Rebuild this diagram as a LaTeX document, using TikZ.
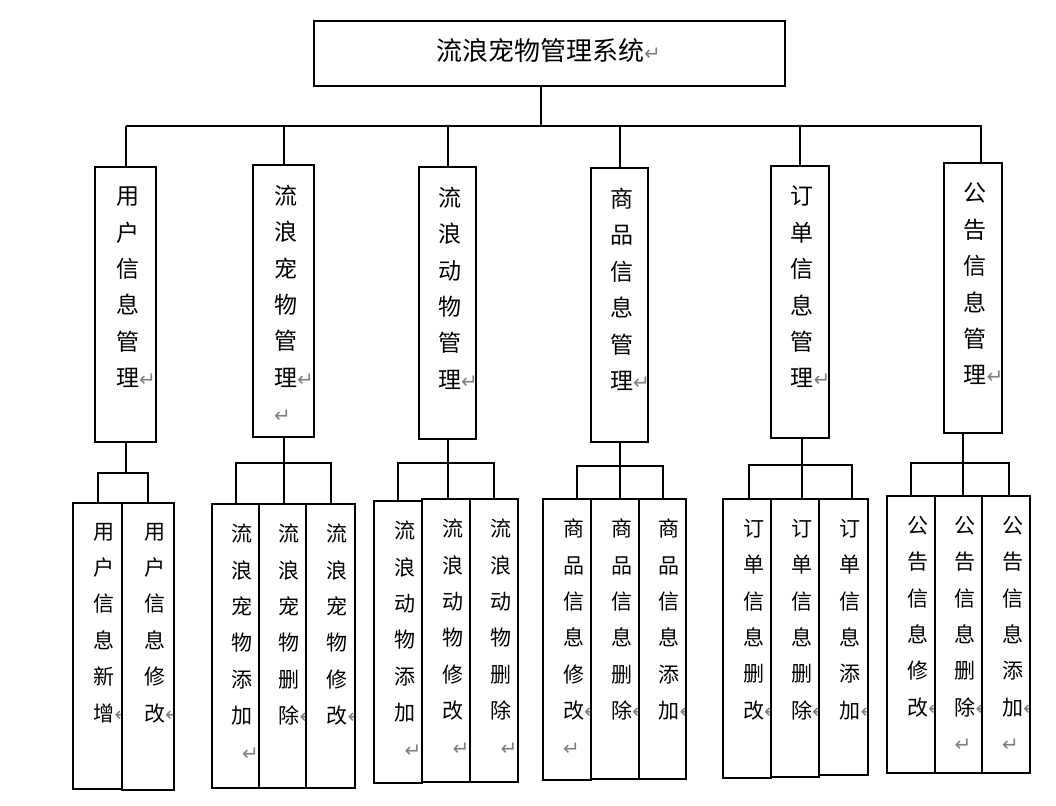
\documentclass[tikz,border=0pt]{standalone}
\usepackage{fontspec}
\usepackage{xcolor}
\usetikzlibrary{positioning, calc}
\newfontfamily\cjk{Noto Sans CJK SC}
\newfontfamily\symfont{DejaVu Sans}
\definecolor{retGray}{RGB}{128,128,128}
\newcommand{\titlefont}{\cjk\fontsize{26}{30}\selectfont}
\newcommand{\modfont}{\cjk\fontsize{23}{36.4}\selectfont}
\newcommand{\leaffont}{\cjk\fontsize{21}{36.4}\selectfont}
\newcommand{\ret}{{\symfont\fontsize{20}{20}\selectfont\textcolor{retGray}{↵}}}
\newcommand{\retL}{\makebox[1em][l]{\ret}}
\newcommand{\retM}{\makebox[1em][l]{\hspace{.5em}\ret}}

\begin{document}
\begin{tikzpicture}[
    x=1pt, y=-1pt,
    box/.style={draw, line width=2.3pt, inner sep=0pt, outer sep=0pt, anchor=north west},
    colstack/.style={draw=none, fill=none, inner sep=0pt, outer sep=0pt,
        minimum size=0pt, anchor=north, align=center, text=black},
    module/.style={box, path picture={
        \node[colstack, font=\modfont] at ([xshift=2pt, yshift=-20pt]path picture bounding box.north) {#1};}},
    leaf/.style={box, path picture={
        \node[colstack, font=\leaffont] at ([xshift=6.5pt, yshift=-20pt]path picture bounding box.north) {#1};}},
    titletext/.style={font=\titlefont, inner sep=0pt},
    link/.style={line width=2pt}
]
    \useasboundingbox (0,0) rectangle (1056,805);

    % Root box
    \node[box, minimum width=471pt, minimum height=65pt] (root) at (314,21) {};
    \node[titletext] (rootText) at (540,51) {流浪宠物管理系统\rlap{\ret}};

    % Second level: modules
    \node[module={用\\户\\信\\息\\管\\理\rlap{\ret}}, minimum width=61pt, minimum height=275pt] (mUser) at (95,167) {};
    \node[module={流\\浪\\宠\\物\\管\\理\rlap{\ret}\\\retL}, minimum width=61pt, minimum height=272pt] (mPet) at (253,165) {};
    \node[module={流\\浪\\动\\物\\管\\理\rlap{\ret}}, minimum width=57pt, minimum height=272pt] (mAnimal) at (419,167) {};
    \node[module={商\\品\\信\\息\\管\\理\rlap{\ret}}, minimum width=57pt, minimum height=274pt] (mGoods) at (591,168) {};
    \node[module={订\\单\\信\\息\\管\\理\rlap{\ret}}, minimum width=58pt, minimum height=272pt] (mOrder) at (771,166) {};
    \node[module={公\\告\\信\\息\\管\\理\rlap{\ret}}, minimum width=58pt, minimum height=270pt] (mNotice) at (944,163) {};

    % Root to modules
    \coordinate (bus) at (541,126);
    \coordinate (busEnd) at (981,126);
    \draw[link] (bus |- root.south) -- (bus);
    \draw[link] (mUser.north |- bus) -- (busEnd) -- (busEnd |- mNotice.north);
    \foreach \m in {mUser, mPet, mAnimal, mGoods, mOrder}{
        \draw[link] (\m.north |- bus) -- (\m.north);
    }

    % Third level: user
    \node[leaf={用\\户\\信\\息\\新\\增\rlap{\ret}}, minimum width=49pt, minimum height=286pt] (uAdd) at (73,503) {};
    \node[leaf={用\\户\\信\\息\\修\\改\rlap{\ret}}, minimum width=52pt, minimum height=287pt] (uEdit) at (122,503) {};
    \coordinate (jUser) at (mUser.south |- 0,473);
    \draw[link] (mUser.south) -- (jUser);
    \draw[link] (uAdd.north) |- (jUser) -| (uEdit.north);

    % Third level: pet
    \node[leaf={流\\浪\\宠\\物\\添\\加\\\retM}, minimum width=47pt, minimum height=284pt] (pAdd) at (212,504) {};
    \node[leaf={流\\浪\\宠\\物\\删\\除\rlap{\ret}}, minimum width=47pt, minimum height=284pt] (pDel) at (259,504) {};
    \node[leaf={流\\浪\\宠\\物\\修\\改\rlap{\ret}}, minimum width=49pt, minimum height=284pt] (pEdit) at (306,504) {};
    \coordinate (jPet) at (mPet.south |- 0,463);
    \draw[link] (mPet.south) -- (mPet.south |- pDel.north);
    \draw[link] (pAdd.north) |- (jPet) -| (pEdit.north);

    % Third level: animal
    \node[leaf={流\\浪\\动\\物\\添\\加\\\retM}, minimum width=48pt, minimum height=282pt] (aAdd) at (374,501) {};
    \node[leaf={流\\浪\\动\\物\\修\\改\\\retM}, minimum width=48pt, minimum height=283pt] (aEdit) at (422,499) {};
    \node[leaf={流\\浪\\动\\物\\删\\除\\\retM}, minimum width=48pt, minimum height=283pt] (aDel) at (470,499) {};
    \coordinate (jAnimal) at (mAnimal.south |- 0,463);
    \draw[link] (mAnimal.south) -- (mAnimal.south |- aEdit.north);
    \draw[link] (aAdd.north) |- (jAnimal) -| (aDel.north);

    % Third level: goods
    \node[leaf={商\\品\\信\\息\\修\\改\rlap{\ret}\\\retL}, minimum width=48pt, minimum height=281pt] (gEdit) at (543,499) {};
    \node[leaf={商\\品\\信\\息\\删\\除\rlap{\ret}}, minimum width=48pt, minimum height=280pt] (gDel) at (591,499) {};
    \node[leaf={商\\品\\信\\息\\添\\加\rlap{\ret}}, minimum width=47pt, minimum height=280pt] (gAdd) at (639,499) {};
    \coordinate (jGoods) at (mGoods.south |- 0,466);
    \draw[link] (mGoods.south) -- (mGoods.south |- gDel.north);
    \draw[link] ([xshift=10pt]gEdit.north) |- (jGoods) -| (gAdd.north);

    % Third level: order
    \node[leaf={订\\单\\信\\息\\删\\改\rlap{\ret}}, minimum width=48pt, minimum height=279pt] (oEdit) at (723,499) {};
    \node[leaf={订\\单\\信\\息\\删\\除\rlap{\ret}}, minimum width=48pt, minimum height=278pt] (oDel) at (771,499) {};
    \node[leaf={订\\单\\信\\息\\添\\加\rlap{\ret}}, minimum width=49pt, minimum height=276pt] (oAdd) at (819,499) {};
    \coordinate (jOrder) at ([xshift=2pt]mOrder.south |- 0,465);
    \draw[link] ([xshift=2pt]mOrder.south) -- (jOrder |- oDel.north);
    \draw[link] ([xshift=2pt]oEdit.north) |- (jOrder) -| ([xshift=8pt]oAdd.north);

    % Third level: notice
    \node[leaf={公\\告\\信\\息\\修\\改\rlap{\ret}}, minimum width=48pt, minimum height=277pt] (nEdit) at (887,496) {};
    \node[leaf={公\\告\\信\\息\\删\\除\rlap{\ret}\\\retL}, minimum width=47pt, minimum height=277pt] (nDel) at (935,496) {};
    \node[leaf={公\\告\\信\\息\\添\\加\rlap{\ret}\\\retL}, minimum width=48pt, minimum height=277pt] (nAdd) at (982,496) {};
    \coordinate (jNotice) at ([xshift=-10pt]mNotice.south |- 0,463);
    \draw[link] ([xshift=-10pt]mNotice.south) -- (jNotice |- nDel.north);
    \draw[link] (nEdit.north) |- (jNotice) -| ([xshift=3pt]nAdd.north);
\end{tikzpicture}
\end{document}
